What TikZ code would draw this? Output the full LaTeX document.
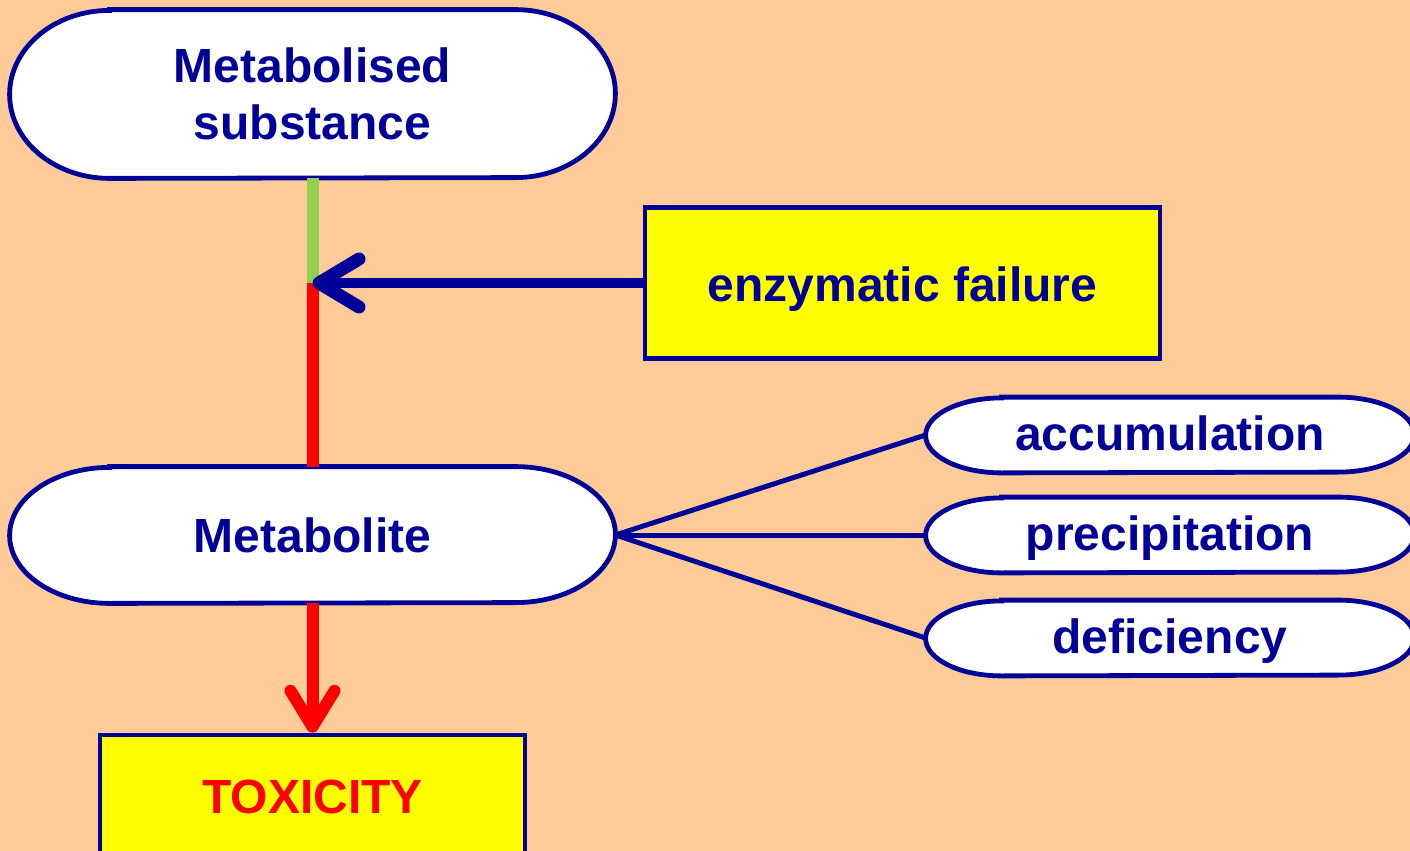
\documentclass[tikz,border=0pt]{standalone}
\usepackage{fontspec}
\setmainfont{Liberation Sans}
\usetikzlibrary{arrows.meta}
\definecolor{bg}{HTML}{FFCC99}
\definecolor{dblue}{HTML}{000099}
\definecolor{lgreen}{HTML}{92D050}
\definecolor{yel}{HTML}{FFFF00}
\definecolor{rd}{HTML}{FF0000}
\pgfdeclarelayer{bglayer}
\pgfdeclarelayer{background}
\pgfsetlayers{bglayer,background,main}
\tikzset{
  lbl/.style={font=\fontsize{24}{28.5}\selectfont\bfseries, text=dblue, align=center},
  pilltext/.style={lbl, inner sep=0pt},
  outline/.style={draw=dblue, line width=2.4pt, fill=white},
  ybox/.style={lbl, draw=dblue, line width=2.2pt, fill=yel, inner sep=0pt},
  fan/.style={draw=dblue, line width=2.5pt},
  small/.style={pilltext, minimum width=244pt, minimum height=37.5pt, text height=20pt, text depth=5pt},
}
% #1 node name, #2 x radius, #3 y radius
\newcommand{\pillpath}[3]{%
  \path[outline] ([xshift=#2]#1.north west) -- ([xshift=-#2]#1.north east)
    arc[start angle=90, end angle=-90, x radius=#2, y radius=#3]
    -- ([xshift=#2]#1.south west)
    arc[start angle=270, end angle=90, x radius=#2, y radius=#3] -- cycle;}
\begin{document}
\begin{tikzpicture}[x=0.5pt,y=-0.5pt]
\begin{pgfonlayer}{bglayer}
\fill[bg] (0,0) rectangle (1410,851);
\end{pgfonlayer}
\useasboundingbox (0,0) rectangle (1410,851);
% nodes
\node[pilltext, minimum width=302.5pt, minimum height=84pt] (sub) at (312.5,94) {Metabolised\\substance};
\node[pilltext, minimum width=302.5pt, minimum height=68pt] (met) at (312.5,535) {Metabolite};
\node[ybox, minimum width=257.5pt, minimum height=75.5pt, text height=22pt, text depth=4pt] (enz) at (902.5,283) {enzymatic failure};
\node[ybox, minimum width=212.5pt, minimum height=62pt, text=rd] (tox) at (312.5,797) {TOXICITY};
\node[small] (acc) at (1170,435) {accumulation};
\node[small] (pre) at (1170,535) {precipitation};
\node[small] (def) at (1170,638) {deficiency};
\begin{pgfonlayer}{background}
\pillpath{sub}{50pt}{42pt}
\pillpath{met}{50pt}{34pt}
\pillpath{acc}{38pt}{18.75pt}
\pillpath{pre}{38pt}{18.75pt}
\pillpath{def}{38pt}{18.75pt}
\end{pgfonlayer}
\coordinate (j) at (312.5,283);
% connectors
\draw[lgreen, line width=6pt] (sub.south) -- (j);
\draw[rd, line width=6pt] (j) -- (met.north);
\draw[dblue, line width=5pt, -{Straight Barb[length=20pt,width=24pt,line width=6.5pt,round]}] (enz.west) -- (j);
\draw[rd, line width=6pt, -{Straight Barb[length=18pt,width=22pt,line width=6pt,round]}] (met.south) -- (tox.north);
\draw[fan] (met.east) -- (acc.west);
\draw[fan] (met.east) -- (pre.west);
\draw[fan] (met.east) -- (def.west);
\end{tikzpicture}
\end{document}
